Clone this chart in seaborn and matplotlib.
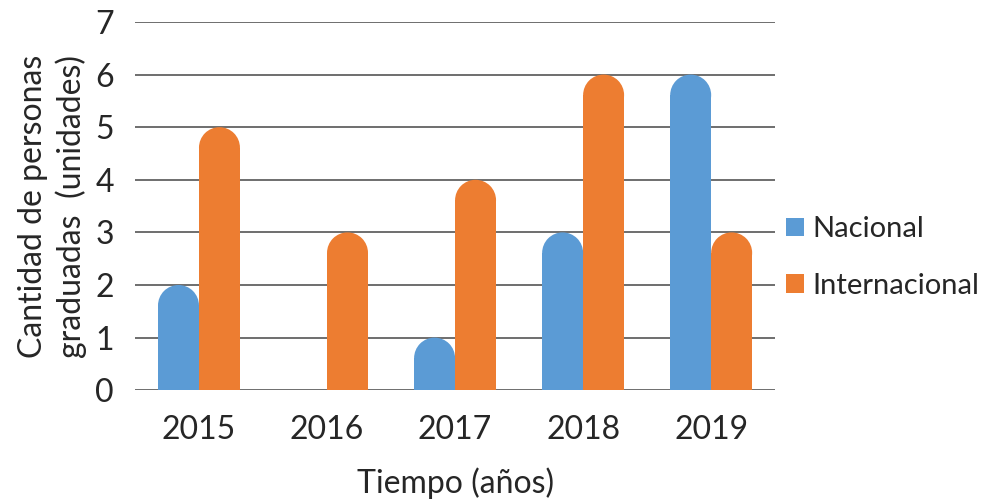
import numpy as np
import pandas as pd
import matplotlib
matplotlib.use("Agg")
import matplotlib.pyplot as plt
from matplotlib.patches import Ellipse, Patch
import seaborn as sns

years = ["2015", "2016", "2017", "2018", "2019"]
nacional = [2, 0, 1, 3, 6]
internacional = [5, 3, 4, 6, 3]
series = ["Nacional", "Internacional"]
colors = ["#5B9BD5", "#ED7D31"]

df = pd.DataFrame({
    "year": years * 2,
    "value": nacional + internacional,
    "serie": ["Nacional"] * len(years) + ["Internacional"] * len(years),
})

sns.set_theme(style="white")
plt.rcParams['font.family'] = ['Lato', 'DejaVu Sans']

fig = plt.figure(figsize=(9.85, 4.99), dpi=100)
ax = fig.add_axes([0.137, 0.218, 0.65, 0.738])

sns.barplot(data=df, x="year", y="value", hue="serie", hue_order=series,
            palette=colors, width=0.64, ax=ax, legend=False, saturation=1,
            linewidth=0)

ax.set_ylim(0, 7)
ax.set_xlim(-0.5, len(years) - 0.5)
ax.set_yticks(range(0, 8))
ax.yaxis.grid(True, color="#555555", linewidth=1.2)
ax.set_axisbelow(True)
for s in ax.spines.values():
    s.set_visible(False)
ax.tick_params(axis="both", labelsize=23, length=0, pad=15)
ax.tick_params(axis="x", pad=18)

# round bar tops
fig.canvas.draw()
for p in list(ax.patches):
    h = p.get_height()
    if h <= 0:
        p.set_visible(False)
        continue
    x, w = p.get_x(), p.get_width()
    x0, y0 = ax.transData.transform((x, 0))
    x1, y1 = ax.transData.transform((x + w, 1))
    r_px = (x1 - x0) / 2
    r = r_px / (y1 - y0)
    p.set_height(h - r)
    ax.add_patch(Ellipse((x + w / 2, h - r), w, 2 * r,
                         facecolor=p.get_facecolor(), edgecolor="none"))

ax.set_xlabel("Tiempo (años)", fontsize=23, labelpad=16)
ax.set_ylabel("Cantidad de personas\ngraduadas  (unidades)", fontsize=23,
              labelpad=6, linespacing=1.3)

handles = [Patch(facecolor=c, edgecolor="none", label=s) for s, c in zip(series, colors)]
ax.legend(handles=handles, loc="center left", bbox_to_anchor=(0.99, 0.36),
          frameon=False, fontsize=21, handlelength=0.6, handleheight=0.6,
          handletextpad=0.3, labelspacing=1.05, borderaxespad=0.2)

fig.savefig("out.png", dpi=100)
